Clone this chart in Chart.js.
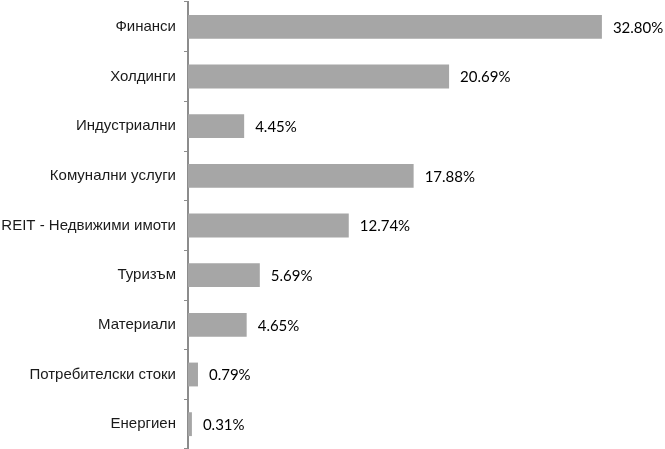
<!DOCTYPE html>
<html>
<head>
<meta charset="utf-8">
<script src="https://cdn.jsdelivr.net/npm/chart.js@4"></script>
<style>
  html, body { margin:0; padding:0; background:#fff; }
  #wrap { width:665px; height:449px; }
</style>
</head>
<body>
<div id="wrap"><canvas id="sectorChart"></canvas></div>
<script>
const sectors = ['Финанси','Холдинги','Индустриални','Комунални услуги','REIT - Недвижими имоти','Туризъм','Материали','Потребителски стоки','Енергиен'];
const weights = [32.80, 20.69, 4.45, 17.88, 12.74, 5.69, 4.65, 0.79, 0.31];

// подписи със стойностите вдясно от стълбовете
const valueLabels = {
    id:'valueLabels',
    afterDatasetsDraw(chart){
        const ctx = chart.ctx;
        const meta = chart.getDatasetMeta(0);
        ctx.save();
        ctx.font = '15px Lato';
        ctx.fillStyle = '#000';
        ctx.textBaseline = 'middle';
        ctx.textAlign = 'left';
        meta.data.forEach((bar,i)=>{
            ctx.fillText(weights[i].toFixed(2)+'%', bar.x+11, bar.y+1);
        });
        ctx.restore();
    }
};

new Chart(document.getElementById('sectorChart'), {
    type:'bar',
    data:{
        labels:sectors,
        datasets:[{data:weights, backgroundColor:'#a6a6a6', barPercentage:0.48, categoryPercentage:1}]
    },
    options:{
        indexAxis:'y',
        responsive:true,
        maintainAspectRatio:false,
        animation:false,
        layout:{padding:{top:2, bottom:0}},
        plugins:{legend:{display:false}, tooltip:{enabled:false}},
        scales:{
            x:{display:false, min:0, max:37.8},
            y:{
                afterFit(scale){ scale.width = 188; scale.paddingTop = 0; scale.paddingBottom = 0; },
                grid:{drawOnChartArea:false, offset:true, tickLength:4, color:'#8c8c8c'},
                border:{display:true, color:'#8c8c8c', width:2},
                ticks:{color:'#1a1a1a', font:{family:'Liberation Sans', size:15}, padding:8}
            }
        }
    },
    plugins:[valueLabels]
});
</script>
</body>
</html>
